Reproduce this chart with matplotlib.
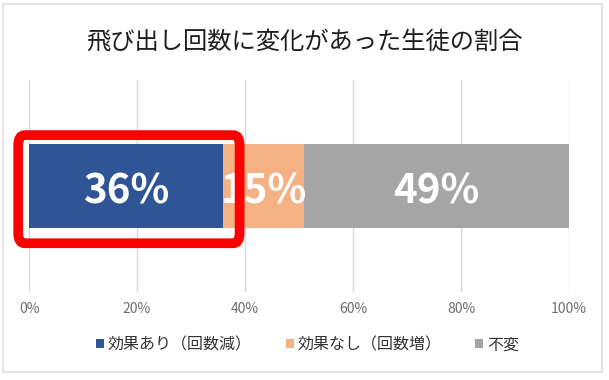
import matplotlib
matplotlib.use("Agg")
from matplotlib import pyplot as plt
from matplotlib.patches import FancyBboxPatch, Rectangle

plt.rcParams['font.family'] = ['Noto Sans CJK JP', 'DejaVu Sans']

title = "飛び出し回数に変化があった生徒の割合"
categories = ["効果あり（回数減）", "効果なし（回数増）", "不変"]
values = [36, 15, 49]
colors = ["#2F5597", "#F4B183", "#A5A5A5"]
ticks = [0, 20, 40, 60, 80, 100]
tick_labels = ["0%", "20%", "40%", "60%", "80%", "100%"]

fig = plt.figure(figsize=(6.09, 3.80), dpi=100)
fig.patch.set_facecolor("white")

# outer chart frame
fig.patches.append(Rectangle((3 / 609, 1 - 372 / 380), 599 / 609, 368 / 380,
                             transform=fig.transFigure, facecolor="white",
                             edgecolor="#E6E3E0", linewidth=1.5, zorder=-5))

ax = fig.add_axes([29 / 609, 1 - 292 / 380, 540 / 609, 212 / 380])
ax.set_facecolor("none")
ax.set_zorder(2)

left = 0
for cat, v, c in zip(categories, values, colors):
    ax.barh(0, v, left=left, height=0.40, color=c, label=cat, zorder=2)
    ax.text(left + v / 2, -0.03, f"{v}%", ha="center", va="center",
            color="white", fontsize=29, fontweight="bold", zorder=3)
    left += v

ax.set_xlim(0, 100)
ax.set_ylim(-0.5, 0.5)
ax.set_xticks(ticks)
ax.set_xticklabels(tick_labels, color="#6E6E6E", fontsize=10)
ax.set_yticks([])
ax.tick_params(axis="x", length=0, pad=7)
ax.grid(axis="x", color="#D9D9D9", linewidth=1, zorder=0)
for s in ax.spines.values():
    s.set_visible(False)

# red highlight around the first segment
box = FancyBboxPatch((-2, -0.27), 41, 0.51,
                     boxstyle="round,pad=0,rounding_size=1.2",
                     transform=ax.transData, facecolor="none",
                     edgecolor="#FF0000", linewidth=7, clip_on=False, zorder=5,
                     mutation_aspect=0.04)
ax.add_patch(box)

fig.text(0.5, 1 - 43 / 380, title, ha="center", va="center",
         fontsize=17.5, color="#1F1F1F")

leg = fig.legend(loc="center", bbox_to_anchor=(0.505, 1 - 345 / 380), ncol=3,
                 frameon=False, fontsize=11.5, handlelength=0.5, handleheight=0.5,
                 handletextpad=0.25, columnspacing=2.1)
for t in leg.get_texts():
    t.set_color("#333333")

fig.savefig("out.png", dpi=100)
